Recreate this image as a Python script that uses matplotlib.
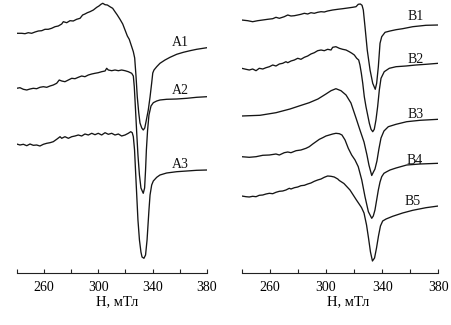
import matplotlib
matplotlib.use("Agg")
import matplotlib.pyplot as plt

plt.rcParams['font.family'] = ['Liberation Serif', 'DejaVu Serif']

# ---- EPR spectra, series A (field in mT, signal in arbitrary units) ----
A1_field = [240.0, 243.7, 246.1, 248.5, 251.0, 253.5, 255.9, 258.4, 260.8, 263.2,
            265.7, 268.2, 270.6, 273.1, 274.3, 276.8, 279.2, 281.6, 284.1, 286.6,
            288.5, 290.2, 292.0, 293.9, 296.4, 298.9, 300.5, 302.0, 303.3, 305.0,
            306.7, 308.6, 310.6, 312.3, 314.0, 316.0, 318.0, 319.7, 321.4, 322.8,
            324.6, 325.8, 326.8, 327.8, 328.7, 329.8, 330.7, 332.0, 333.1, 334.2,
            335.1, 336.8, 338.1, 339.3, 340.1, 341.0, 343.0, 345.4, 349.1, 352.8,
            357.7, 362.6, 367.5, 372.4, 380.0]
A1_signal = [239.7, 239.7, 239.3, 240.3, 239.7, 241, 242, 242.3, 243.7, 243.7,
             244.7, 246.3, 247, 249, 251.3, 250.3, 252.3, 252, 253.7, 254.7,
             258, 259, 260.3, 261.3, 263, 265.7, 267, 268.7, 269.7, 268.3,
             268, 266.3, 264.7, 261.3, 258, 253.7, 249, 243, 237, 233.7,
             226.3, 221.3, 215, 196.3, 176.3, 160, 150, 145, 143, 145,
             151, 163, 176, 190, 200, 203, 206.3, 209.7, 213, 215.7,
             218.7, 220.7, 222.3, 223.7, 225.3]

A2_field = [240.0, 242.4, 244.9, 247.4, 249.8, 252.2, 254.7, 257.1, 259.6, 262.1,
            264.5, 266.9, 269.4, 271.3, 273.1, 275.5, 278.0, 280.5, 282.9, 285.3,
            287.8, 290.2, 292.7, 295.2, 297.6, 300.0, 302.5, 305.0, 306.2, 307.4,
            309.9, 312.3, 314.8, 317.2, 319.7, 322.1, 324.6, 325.8, 326.5, 327.3,
            328.3, 329.2, 330.3, 331.4, 333.1, 334.1, 334.8, 335.4, 336.3, 337.3,
            338.8, 340.5, 343.0, 345.4, 350.3, 357.7, 365.1, 372.4, 380.0]
A2_signal = [184.7, 185.3, 183.7, 183, 184, 184.7, 184.3, 185.7, 186.3, 185.7,
             187, 188, 189.7, 193, 192, 191.3, 193, 194.7, 194.3, 195.7,
             197, 196.3, 198, 199, 199.7, 200.3, 201.3, 202, 204.7, 203,
             202.3, 203, 202.3, 203, 202.3, 201.3, 199.7, 197, 186.3, 166.3,
             140, 118, 98, 85, 79.7, 85, 103, 123, 143, 158,
             167, 170.3, 172, 173, 173.7, 174, 174.7, 175.7, 176.3]

A3_field = [240.0, 242.4, 244.9, 247.4, 249.8, 252.2, 254.7, 257.1, 259.6, 262.1,
            264.5, 266.9, 269.4, 271.9, 273.1, 275.5, 278.0, 280.5, 282.9, 285.3,
            287.8, 290.2, 292.7, 295.2, 297.6, 300.0, 302.5, 305.0, 307.4, 309.9,
            312.3, 314.8, 317.2, 319.7, 322.1, 323.9, 325.0, 325.8, 326.7, 327.4,
            328.3, 329.2, 330.3, 331.4, 332.2, 333.6, 334.8, 335.9, 336.6, 337.3,
            338.1, 339.3, 340.5, 343.0, 345.4, 350.3, 357.7, 365.1, 372.4, 380.0]
A3_signal = [129, 128, 128.7, 127.3, 129, 127.7, 128, 127, 128.7, 129.7,
             130.3, 131.3, 133.7, 136.3, 134.7, 136.3, 134.7, 136.3, 137, 138,
             137, 139, 138, 139.7, 138.3, 139.7, 138, 140.3, 138.7, 139.7,
             138, 139, 137, 138, 139.7, 141.3, 140.3, 136.3, 123, 103,
             78, 53, 33, 21, 16, 14.7, 18, 33, 48, 63,
             78, 88, 92, 95.7, 98, 100, 101.3, 102, 102.7, 103]

# ---- EPR spectra, series B ----
B1_field = [240.0, 244.3, 247.8, 251.4, 255.0, 258.5, 262.1, 264.4, 266.8, 270.3,
            272.8, 275.1, 277.5, 279.9, 282.2, 284.6, 287.0, 289.3, 291.7, 294.1,
            296.5, 298.8, 301.2, 304.8, 308.4, 311.9, 315.5, 319.0, 321.4, 323.0,
            324.5, 325.7, 326.6, 327.8, 329.4, 331.4, 333.3, 335.1, 336.1, 337.3,
            338.5, 339.7, 342.1, 345.6, 349.9, 354.6, 361.8, 371.2, 380.0]
B1_signal = [253, 252.3, 251.3, 252.3, 253, 253.7, 254.3, 255.7, 254.7, 256.3,
             258, 257, 257.3, 258, 258.7, 259.7, 259, 260.3, 259.7, 260.7,
             261.3, 261, 262, 263, 263.7, 264.3, 265, 265.7, 266.3, 268.7,
             269, 267.7, 263, 246.3, 223, 203, 189.7, 183.7, 189.7, 206.3,
             229.7, 236.3, 240.7, 242, 243.3, 244.3, 246.3, 247.7, 248]

B2_field = [240.0, 243.1, 245.4, 247.8, 250.2, 252.5, 255.0, 257.3, 259.7, 262.1,
            264.4, 266.8, 269.2, 271.5, 272.8, 275.1, 277.5, 279.9, 282.2, 284.6,
            287.0, 289.3, 291.7, 294.1, 296.5, 298.8, 301.2, 303.6, 304.8, 307.1,
            309.5, 311.9, 314.3, 316.6, 318.5, 320.2, 321.9, 323.3, 324.2, 325.2,
            326.2, 327.3, 328.5, 329.7, 330.9, 332.1, 333.3, 334.4, 335.6, 336.8,
            338.0, 339.2, 341.5, 345.1, 349.9, 357.0, 364.1, 371.2, 380.0]
B2_signal = [204.7, 203.7, 203, 204, 202.3, 204.7, 204, 205.3, 206.3, 208,
             207, 209, 209.7, 211.3, 210.3, 212, 213, 214.7, 213.7, 215.7,
             217, 219, 220.3, 222.3, 223, 222.3, 223.7, 223, 225.7, 226.3,
             224.7, 223.7, 223, 221.3, 219.7, 218, 214.7, 213, 208, 199.7,
             189.7, 176.3, 166.3, 158, 149.7, 143.7, 141.3, 143.7, 153, 166.3,
             183, 194.7, 201.3, 204.7, 206.3, 207, 208, 208.7, 209.7]

B3_field = [240.0, 253.0, 264.4, 274.4, 281.5, 288.1, 294.3, 300.0, 303.6, 307.1,
            310.7, 314.3, 317.8, 321.4, 324.2, 327.1, 329.2, 330.6, 332.6, 333.8,
            334.9, 336.3, 337.7, 339.2, 341.3, 344.4, 349.9, 357.5, 367.0, 380.0]
B3_signal = [157, 157.7, 160.3, 164, 167.3, 170.3, 174, 179, 182.3, 184.3,
             182.3, 178, 170, 155, 143, 131, 118, 108, 97.5, 101,
             104, 112, 124, 135, 142, 146.3, 148.7, 151.3, 152.7, 153.7]

B4_field = [240.0, 245.4, 250.2, 255.0, 259.7, 264.4, 266.8, 270.3, 272.8, 275.1,
            278.7, 282.2, 285.8, 288.1, 290.6, 292.9, 295.3, 297.7, 300.0, 302.4,
            304.8, 307.1, 309.5, 311.4, 313.6, 315.9, 318.3, 320.7, 323.0, 325.5,
            327.8, 330.2, 332.6, 333.7, 334.9, 336.1, 337.3, 338.5, 339.7, 341.3,
            343.3, 345.6, 349.9, 357.5, 367.0, 380.0]
B4_signal = [116.3, 115.7, 116.3, 117.7, 118, 119, 118, 120.3, 121, 120.3,
             122.3, 123, 124.7, 126.3, 129, 131.3, 133.7, 135.3, 137, 138,
             139, 139.7, 139.3, 138, 133, 124.7, 118, 113, 106.3, 93,
             76.3, 61.3, 54.7, 57, 63, 73, 83, 91, 96.3, 99.7,
             101.3, 103, 105, 108, 109, 109.7]

B5_field = [240.0, 243.1, 245.4, 247.8, 250.2, 252.5, 255.0, 257.3, 259.7, 262.1,
            264.4, 266.8, 269.2, 271.5, 273.9, 275.1, 277.5, 279.9, 282.2, 284.6,
            287.0, 289.3, 291.7, 294.1, 296.5, 298.8, 301.2, 303.6, 305.9, 308.4,
            309.5, 312.8, 317.1, 321.7, 325.3, 327.1, 328.9, 330.3, 331.7, 333.1,
            334.6, 336.0, 337.4, 338.8, 340.4, 342.8, 347.5, 354.6, 361.8, 371.2,
            380.0]
B5_signal = [77, 76.3, 76, 76.7, 76.3, 77.7, 78, 79, 79.7, 79.3,
             80.7, 81.7, 82, 83, 84.7, 84, 85.3, 86, 87.3, 87.7,
             89, 90, 91.7, 93, 94, 95.7, 97, 96.7, 96, 94,
             92.5, 89.5, 83, 73, 65.5, 60, 48, 35, 21, 12,
             15, 25, 37, 47, 52, 54, 56.7, 60, 62.7, 65.3,
             67]

# curve names and where their labels sit (field, signal)
A_names = ["A1", "A2", "A3"]
A_label_field = [360.1, 360.1, 360.1]
A_label_signal = [230, 182.3, 108]
B_names = ["B1", "B2", "B3", "B4", "B5"]
B_label_field = [364.1, 364.1, 364.1, 363.4, 361.8]
B_label_signal = [256.3, 213.7, 158, 113, 71.3]

major_ticks = [260, 300, 340, 380]
minor_ticks = [240, 280, 320, 360]
x_label = "H, мТл"

fig = plt.figure(figsize=(4.52, 3.25), dpi=100)
axL = fig.add_axes([16.7 / 452, 52 / 325, 190.3 / 452, 273 / 325])
axR = fig.add_axes([241.7 / 452, 52 / 325, 196.6 / 452, 273 / 325])

panels = [
    (axL, [(A1_field, A1_signal), (A2_field, A2_signal), (A3_field, A3_signal)],
     A_names, A_label_field, A_label_signal, 0.527),
    (axR, [(B1_field, B1_signal), (B2_field, B2_signal), (B3_field, B3_signal),
           (B4_field, B4_signal), (B5_field, B5_signal)],
     B_names, B_label_field, B_label_signal, 0.541),
]

for ax, curves, names, lx, ly, label_x in panels:
    for f, s in curves:
        ax.plot(f, s, color="#151515", lw=0.95, solid_joinstyle="round")
    for name, x, y in zip(names, lx, ly):
        ax.text(x, y, name, fontsize=10, ha="center", va="center", color="#111111")
    ax.set_xlim(240, 380)
    ax.set_ylim(0, 273)
    for side in ("top", "left", "right"):
        ax.spines[side].set_visible(False)
    ax.spines["bottom"].set_linewidth(0.8)
    ax.spines["bottom"].set_color("#222222")
    ax.set_xticks(major_ticks)
    ax.set_xticks(minor_ticks, minor=True)
    ax.tick_params(axis="x", which="both", direction="in", length=3, width=0.8,
                   color="#222222", labelsize=10, pad=6)
    ax.set_yticks([])
    ax.set_xlabel(x_label, fontsize=10.5, labelpad=0.5)
    ax.xaxis.label.set_x(label_x)
    ax.patch.set_alpha(0)

fig.savefig("out.png", dpi=100)
